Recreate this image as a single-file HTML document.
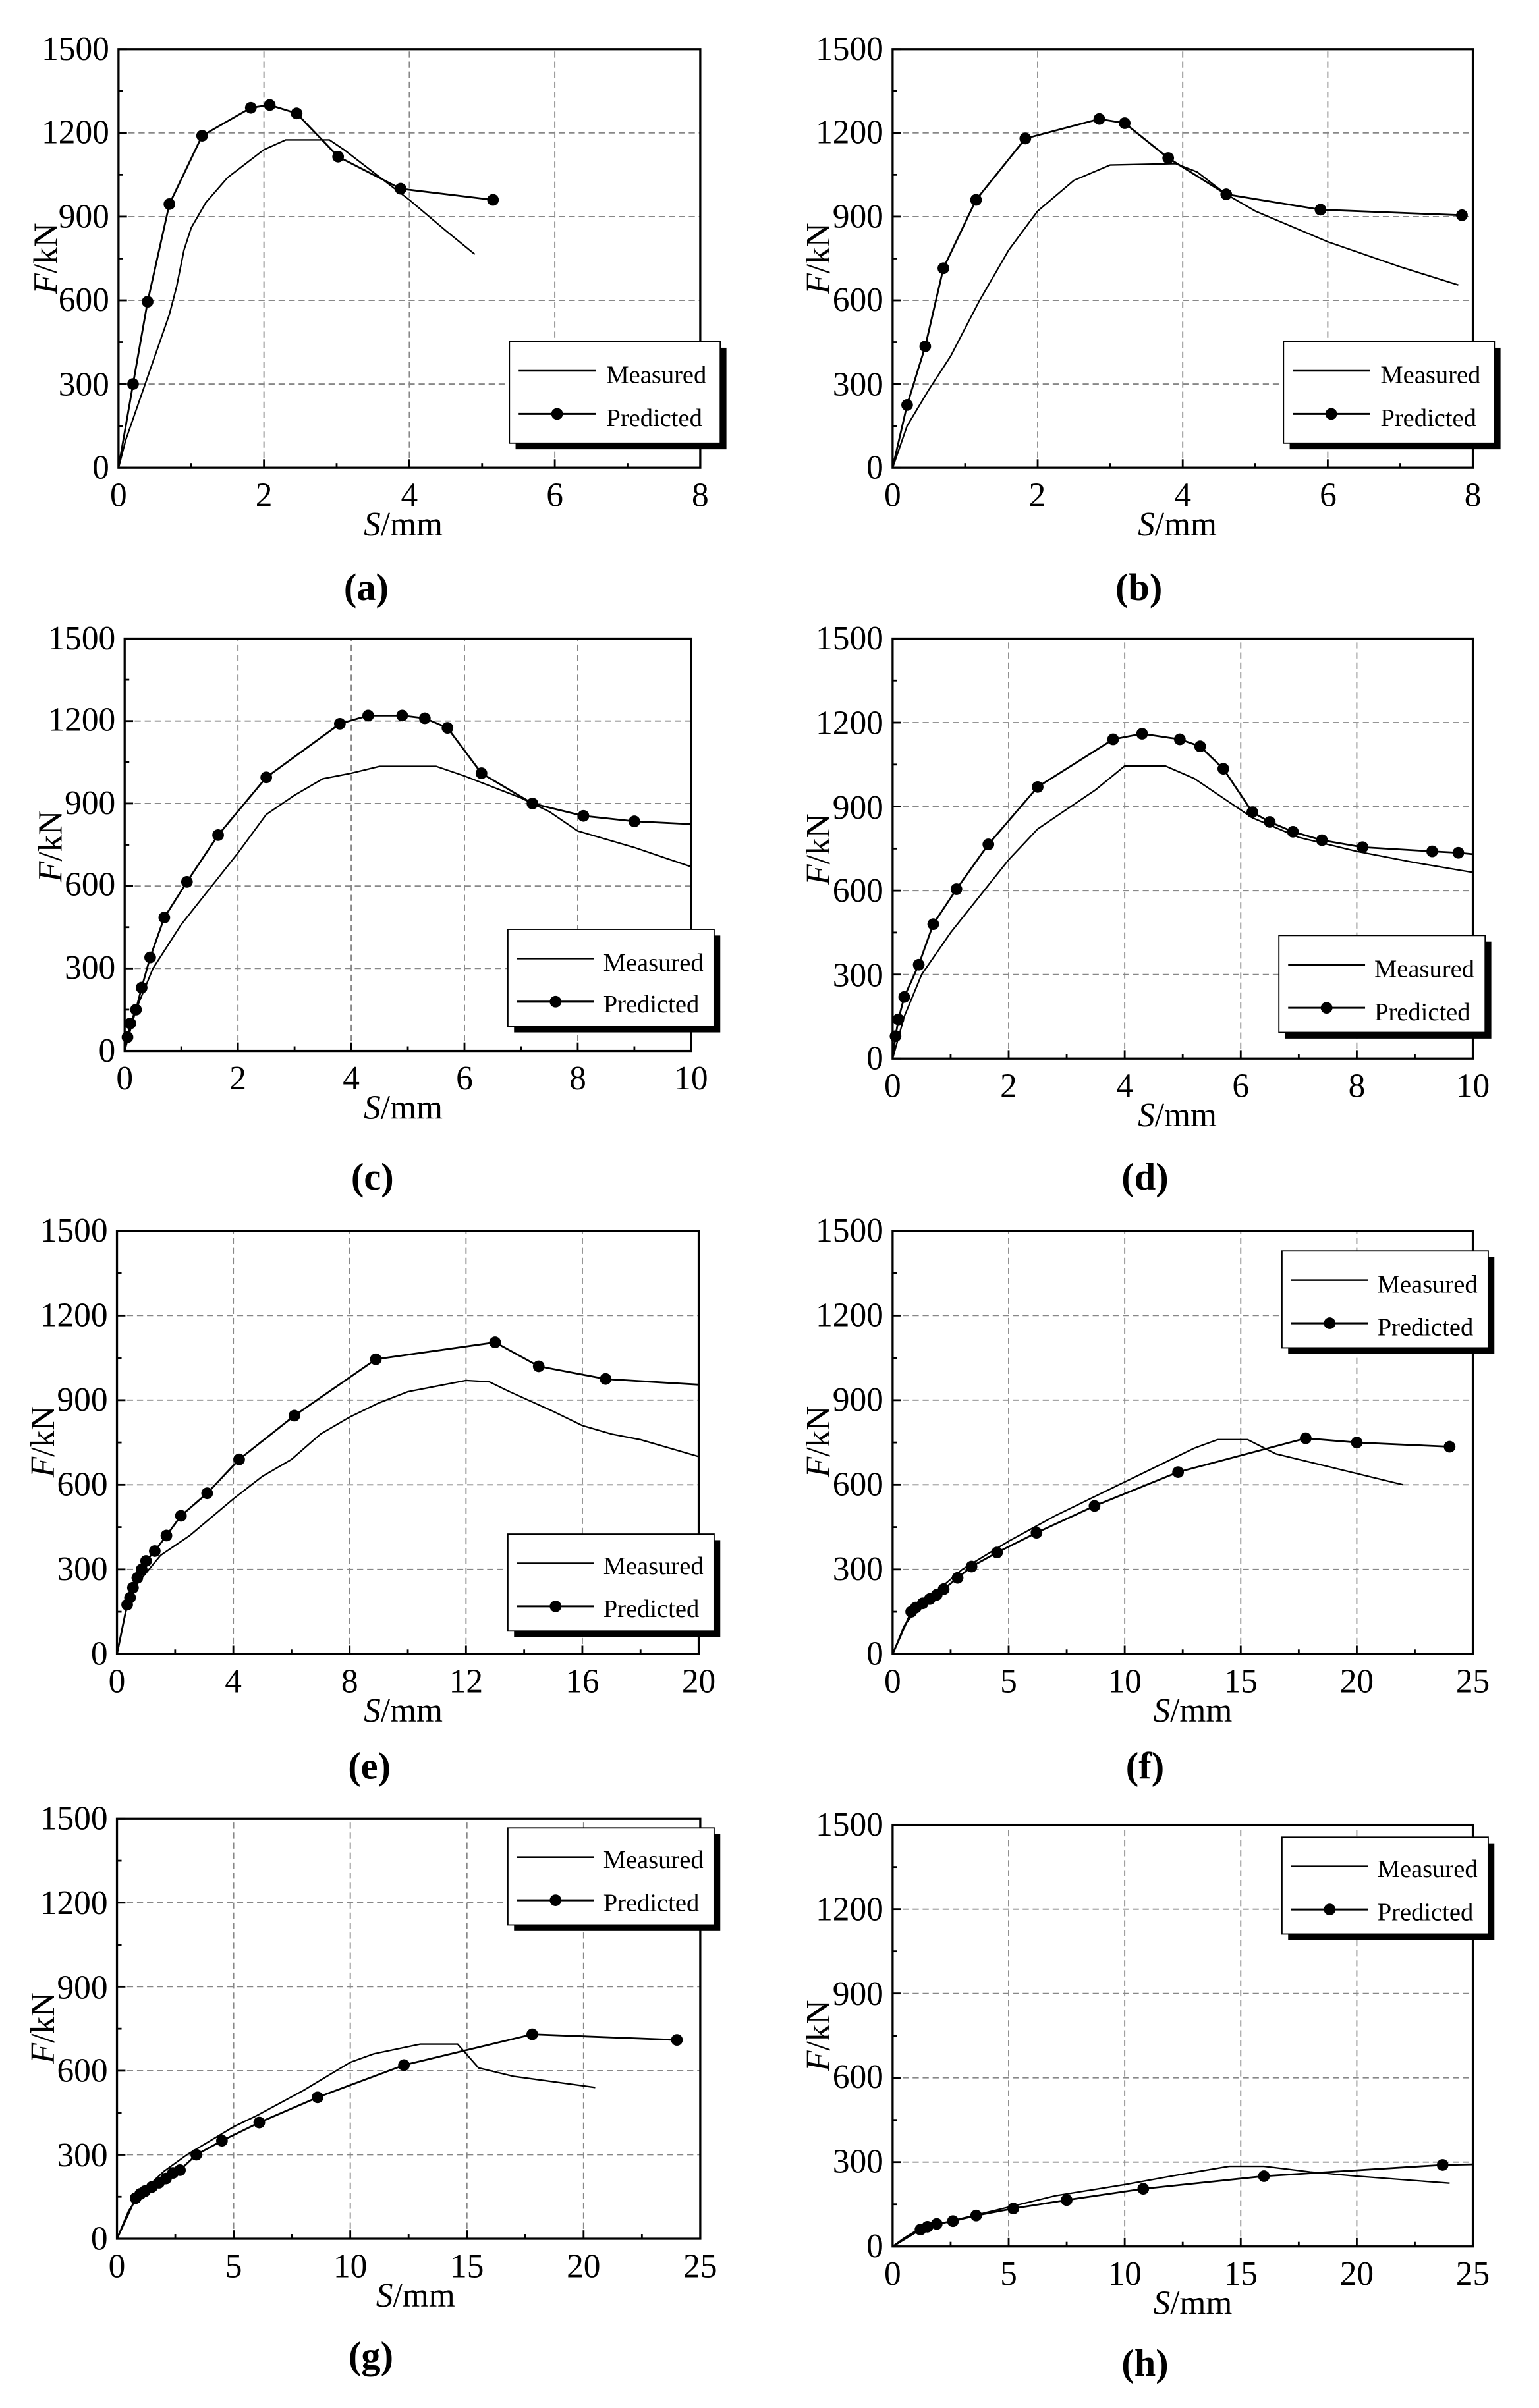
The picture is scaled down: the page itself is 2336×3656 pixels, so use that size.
<!DOCTYPE html>
<html><head><meta charset="utf-8"><style>
html,body{margin:0;padding:0;background:#fff;}
svg{display:block;}
svg text{font-family:"Liberation Serif","Times New Roman",serif;fill:#000;}
.tk{font-size:22px;}
.ttl{font-size:22px;}
.lg{font-size:16.5px;}
.pl{font-size:25px;font-weight:bold;}
</style></head><body>
<svg id="s" width="2336" height="3656" viewBox="0 0 1000 1565" preserveAspectRatio="none" xmlns="http://www.w3.org/2000/svg" font-family="Liberation Serif, serif">
<rect width="1000" height="1565" fill="#fff"/>
<g id="plots"></g>

<!-- (a) -->
<g class="tk" text-anchor="end">
<text x="71" y="311">0</text><text x="71" y="257">300</text><text x="71" y="202">600</text><text x="71" y="148">900</text><text x="71" y="93">1200</text><text x="71" y="39">1500</text>
<text x="574" y="311">0</text><text x="574" y="257">300</text><text x="574" y="202">600</text><text x="574" y="148">900</text><text x="574" y="93">1200</text><text x="574" y="39">1500</text>
</g>
<g class="tk" text-anchor="middle">
<text x="77" y="329">0</text><text x="171.5" y="329">2</text><text x="266" y="329">4</text><text x="360.5" y="329">6</text><text x="455" y="329">8</text>
<text x="580" y="329">0</text><text x="674" y="329">2</text><text x="768.5" y="329">4</text><text x="863" y="329">6</text><text x="957" y="329">8</text>
</g>
<text class="ttl" x="262" y="348" text-anchor="middle"><tspan font-style="italic">S</tspan>/mm</text>
<text class="ttl" x="765" y="348" text-anchor="middle"><tspan font-style="italic">S</tspan>/mm</text>
<text class="ttl" transform="translate(37,168) rotate(-90)" text-anchor="middle"><tspan font-style="italic">F</tspan>/kN</text>
<text class="ttl" transform="translate(539,168) rotate(-90)" text-anchor="middle"><tspan font-style="italic">F</tspan>/kN</text>
<text class="pl" x="238" y="390" text-anchor="middle">(a)</text>
<text class="pl" x="740" y="390" text-anchor="middle">(b)</text>

<!-- (c)(d) -->
<g class="tk" text-anchor="end">
<text x="75" y="690">0</text><text x="75" y="636">300</text><text x="75" y="582">600</text><text x="75" y="529">900</text><text x="75" y="475">1200</text><text x="75" y="422">1500</text>
<text x="574" y="695">0</text><text x="574" y="641">300</text><text x="574" y="586">600</text><text x="574" y="532">900</text><text x="574" y="477">1200</text><text x="574" y="422">1500</text>
</g>
<g class="tk" text-anchor="middle">
<text x="81" y="708">0</text><text x="154.6" y="708">2</text><text x="228.2" y="708">4</text><text x="301.8" y="708">6</text><text x="375.4" y="708">8</text><text x="449" y="708">10</text>
<text x="580" y="713">0</text><text x="655.4" y="713">2</text><text x="730.8" y="713">4</text><text x="806.2" y="713">6</text><text x="881.6" y="713">8</text><text x="957" y="713">10</text>
</g>
<text class="ttl" x="262" y="727" text-anchor="middle"><tspan font-style="italic">S</tspan>/mm</text>
<text class="ttl" x="765" y="732" text-anchor="middle"><tspan font-style="italic">S</tspan>/mm</text>
<text class="ttl" transform="translate(40,550) rotate(-90)" text-anchor="middle"><tspan font-style="italic">F</tspan>/kN</text>
<text class="ttl" transform="translate(539,552) rotate(-90)" text-anchor="middle"><tspan font-style="italic">F</tspan>/kN</text>
<text class="pl" x="242" y="773" text-anchor="middle">(c)</text>
<text class="pl" x="744" y="773" text-anchor="middle">(d)</text>

<!-- (e)(f) -->
<g class="tk" text-anchor="end">
<text x="70" y="1082">0</text><text x="70" y="1027">300</text><text x="70" y="972">600</text><text x="70" y="917">900</text><text x="70" y="862">1200</text><text x="70" y="807">1500</text>
<text x="574" y="1082">0</text><text x="574" y="1027">300</text><text x="574" y="972">600</text><text x="574" y="917">900</text><text x="574" y="862">1200</text><text x="574" y="807">1500</text>
</g>
<g class="tk" text-anchor="middle">
<text x="76" y="1100">0</text><text x="151.6" y="1100">4</text><text x="227.2" y="1100">8</text><text x="302.8" y="1100">12</text><text x="378.4" y="1100">16</text><text x="454" y="1100">20</text>
<text x="580" y="1100">0</text><text x="655.4" y="1100">5</text><text x="730.8" y="1100">10</text><text x="806.2" y="1100">15</text><text x="881.6" y="1100">20</text><text x="957" y="1100">25</text>
</g>
<text class="ttl" x="262" y="1119" text-anchor="middle"><tspan font-style="italic">S</tspan>/mm</text>
<text class="ttl" x="775" y="1119" text-anchor="middle"><tspan font-style="italic">S</tspan>/mm</text>
<text class="ttl" transform="translate(35,937) rotate(-90)" text-anchor="middle"><tspan font-style="italic">F</tspan>/kN</text>
<text class="ttl" transform="translate(539,937) rotate(-90)" text-anchor="middle"><tspan font-style="italic">F</tspan>/kN</text>
<text class="pl" x="240" y="1156" text-anchor="middle">(e)</text>
<text class="pl" x="744" y="1156" text-anchor="middle">(f)</text>

<!-- (g)(h) -->
<g class="tk" text-anchor="end">
<text x="70" y="1462">0</text><text x="70" y="1408">300</text><text x="70" y="1353">600</text><text x="70" y="1299">900</text><text x="70" y="1244">1200</text><text x="70" y="1189">1500</text>
<text x="574" y="1467">0</text><text x="574" y="1412">300</text><text x="574" y="1357">600</text><text x="574" y="1303">900</text><text x="574" y="1248">1200</text><text x="574" y="1193">1500</text>
</g>
<g class="tk" text-anchor="middle">
<text x="76" y="1480">0</text><text x="151.8" y="1480">5</text><text x="227.6" y="1480">10</text><text x="303.4" y="1480">15</text><text x="379.2" y="1480">20</text><text x="455" y="1480">25</text>
<text x="580" y="1485">0</text><text x="655.4" y="1485">5</text><text x="730.8" y="1485">10</text><text x="806.2" y="1485">15</text><text x="881.6" y="1485">20</text><text x="957" y="1485">25</text>
</g>
<text class="ttl" x="270" y="1499" text-anchor="middle"><tspan font-style="italic">S</tspan>/mm</text>
<text class="ttl" x="775" y="1504" text-anchor="middle"><tspan font-style="italic">S</tspan>/mm</text>
<text class="ttl" transform="translate(35,1318) rotate(-90)" text-anchor="middle"><tspan font-style="italic">F</tspan>/kN</text>
<text class="ttl" transform="translate(539,1323) rotate(-90)" text-anchor="middle"><tspan font-style="italic">F</tspan>/kN</text>
<text class="pl" x="241" y="1539" text-anchor="middle">(g)</text>
<text class="pl" x="744" y="1544" text-anchor="middle">(h)</text>

<!-- legends -->
<g id="legs"></g>
<g class="lg">
<text x="394" y="249">Measured</text><text x="394" y="277">Predicted</text>
<text x="897" y="249">Measured</text><text x="897" y="277">Predicted</text>
<text x="392" y="631">Measured</text><text x="392" y="658">Predicted</text>
<text x="893" y="635">Measured</text><text x="893" y="663">Predicted</text>
<text x="392" y="1023">Measured</text><text x="392" y="1051">Predicted</text>
<text x="895" y="840">Measured</text><text x="895" y="868">Predicted</text>
<text x="392" y="1214">Measured</text><text x="392" y="1242">Predicted</text>
<text x="895" y="1220">Measured</text><text x="895" y="1248">Predicted</text>
</g>
</svg>
<script>
(function(){
var NS="http://www.w3.org/2000/svg";
var P=document.getElementById("plots"),L=document.getElementById("legs");
function el(p,t,a){var e=document.createElementNS(NS,t);for(var k in a)e.setAttribute(k,a[k]);p.appendChild(e);return e;}
function panel(x0,x1,y0,y1,xmax,nx,meas,pred){
 var g=el(P,"g",{});
 function X(v){return x0+(x1-x0)*v/xmax;}
 function Y(v){return y0-(y0-y1)*v/1500;}
 for(var i=1;i<nx;i++){var xx=x0+(x1-x0)*i/nx;el(g,"line",{x1:xx,x2:xx,y1:y0,y2:y1,stroke:"#888","stroke-width":0.8,"stroke-dasharray":"4,2.5"});}
 for(var j=1;j<5;j++){var yy=Y(j*300);el(g,"line",{x1:x0,x2:x1,y1:yy,y2:yy,stroke:"#888","stroke-width":0.8,"stroke-dasharray":"4,2.5"});}
 for(var i=0;i<=2*nx;i++){var xx=x0+(x1-x0)*i/(2*nx);el(g,"line",{x1:xx,x2:xx,y1:y0,y2:y0-(i%2?3:5.5),stroke:"#000","stroke-width":1.2});}
 for(var j=0;j<=10;j++){var yy=Y(j*150);el(g,"line",{x1:x0,x2:x0+(j%2?3:5.5),y1:yy,y2:yy,stroke:"#000","stroke-width":1.2});}
 el(g,"rect",{x:x0,y:y1,width:x1-x0,height:y0-y1,fill:"none",stroke:"#000","stroke-width":1.4});
 function pts(a){return a.map(function(p){return X(p[0]).toFixed(2)+","+Y(p[1]).toFixed(2);}).join(" ");}
 el(g,"polyline",{points:pts(meas),fill:"none",stroke:"#000","stroke-width":1});
 el(g,"polyline",{points:pts(pred),fill:"none",stroke:"#000","stroke-width":1.2});
 pred.forEach(function(p,i){if(i>0&&p[0]<xmax*0.995)el(g,"circle",{cx:X(p[0]),cy:Y(p[1]),r:3.8,fill:"#000"});});
}
function leg(x,y,w,h){
 el(L,"rect",{x:x+4,y:y+4,width:w,height:h,fill:"#000"});
 el(L,"rect",{x:x,y:y,width:w,height:h,fill:"#fff",stroke:"#000","stroke-width":0.8});
 el(L,"line",{x1:x+6,x2:x+56,y1:y+19,y2:y+19,stroke:"#000","stroke-width":1.1});
 el(L,"line",{x1:x+6,x2:x+56,y1:y+47,y2:y+47,stroke:"#000","stroke-width":1.3});
 el(L,"circle",{cx:x+31,cy:y+47,r:3.8,fill:"#000"});
}
panel(77,455,304,32,8,4,
[[0,0],[0.1,100],[0.3,250],[0.5,400],[0.7,550],[0.8,650],[0.9,780],[1.0,860],[1.2,950],[1.5,1040],[1.8,1100],[2.0,1140],[2.3,1175],[2.9,1175],[3.1,1140],[3.5,1060],[4.0,960],[4.5,850],[4.9,765]],
[[0,0],[0.2,300],[0.4,595],[0.7,945],[1.15,1190],[1.82,1290],[2.08,1300],[2.45,1270],[3.02,1115],[3.88,1000],[5.15,960]]);
panel(580,957,304,32,8,4,
[[0,0],[0.2,150],[0.5,280],[0.8,400],[1.2,600],[1.6,780],[2.0,920],[2.5,1030],[3.0,1085],[3.9,1090],[4.2,1060],[4.6,980],[5,920],[6,810],[7,720],[7.8,655]],
[[0,0],[0.2,225],[0.45,435],[0.7,715],[1.15,960],[1.83,1180],[2.85,1250],[3.2,1235],[3.8,1110],[4.6,980],[5.9,925],[7.85,905]]);
panel(81,449,683,415,10,5,
[[0,0],[0.2,150],[0.5,300],[1,460],[1.5,590],[2,720],[2.5,860],[3,930],[3.5,990],[4,1010],[4.5,1035],[5.5,1035],[6,1000],[7,920],[7.5,870],[8,800],[9,740],[10,670]],
[[0,0],[0.05,50],[0.1,100],[0.2,150],[0.3,230],[0.45,340],[0.7,485],[1.1,615],[1.65,785],[2.5,995],[3.8,1190],[4.3,1220],[4.9,1220],[5.3,1210],[5.7,1175],[6.3,1010],[7.2,900],[8.1,855],[9,835],[10,825]]);
panel(580,957,688,415,10,5,
[[0,0],[0.2,150],[0.5,300],[1,450],[1.5,580],[2,710],[2.5,820],[3,890],[3.5,960],[4,1045],[4.7,1045],[5.2,1000],[5.7,930],[6.2,860],[7,790],[8,740],[9,700],[10,665]],
[[0,0],[0.05,80],[0.1,140],[0.2,220],[0.45,335],[0.7,480],[1.1,605],[1.65,765],[2.5,970],[3.8,1140],[4.3,1160],[4.95,1140],[5.3,1115],[5.7,1035],[6.2,880],[6.5,845],[6.9,810],[7.4,780],[8.1,755],[9.3,740],[9.75,735],[10,730]]);
panel(76,454,1075,800,20,5,
[[0,0],[0.3,150],[0.7,250],[1.5,350],[2.5,420],[4,550],[5,630],[6,690],[7,780],[8,840],[9,890],[10,930],[11,950],[12,970],[12.8,965],[13.5,930],[15,860],[16,810],[17,780],[18,760],[19,730],[20,700]],
[[0,0],[0.35,175],[0.45,200],[0.55,235],[0.7,270],[0.85,300],[1.0,330],[1.3,365],[1.7,420],[2.2,490],[3.1,570],[4.2,690],[6.1,845],[8.9,1045],[13,1105],[14.5,1020],[16.8,975],[20,955]]);
panel(580,957,1075,800,25,5,
[[0,0],[0.5,100],[1,155],[2,230],[3,300],[5,400],[7,490],[8,530],[10,610],[12,690],[13,730],[14,760],[15.3,760],[16.5,710],[19,660],[22,600]],
[[0,0],[0.8,150],[1.0,165],[1.3,180],[1.6,195],[1.9,210],[2.2,230],[2.8,270],[3.4,310],[4.5,360],[6.2,430],[8.7,525],[12.3,645],[17.8,765],[20,750],[24,735]]);
panel(76,455,1455,1182,25,5,
[[0,0],[0.5,100],[1,160],[2,240],[3,300],[4,350],[5,400],[6,440],[8,530],[10,630],[11,660],[13,695],[14.6,695],[15.5,610],[17,580],[20.5,540]],
[[0,0],[0.8,145],[1.0,160],[1.2,170],[1.5,185],[1.8,200],[2.1,215],[2.4,235],[2.7,245],[3.4,300],[4.5,350],[6.1,415],[8.6,505],[12.3,620],[17.8,730],[24,710]]);
panel(580,957,1460,1186,25,5,
[[0,0],[0.5,30],[1,55],[2,80],[3,100],[5,140],[7,180],[10,220],[12,250],[14.5,285],[16,285],[18,265],[20,250],[24,225]],
[[0,0],[1.2,60],[1.5,70],[1.9,80],[2.6,90],[3.6,110],[5.2,135],[7.5,165],[10.8,205],[16,250],[23.7,290],[25,292]]);
leg(331,222,137,66);
leg(834,222,137,66);
leg(330,604,134,63);
leg(831,608,134,63);
leg(330,997,134,63);
leg(833,813,134,63);
leg(330,1188,134,63);
leg(833,1194,134,63);
})();
</script>
</body></html>
